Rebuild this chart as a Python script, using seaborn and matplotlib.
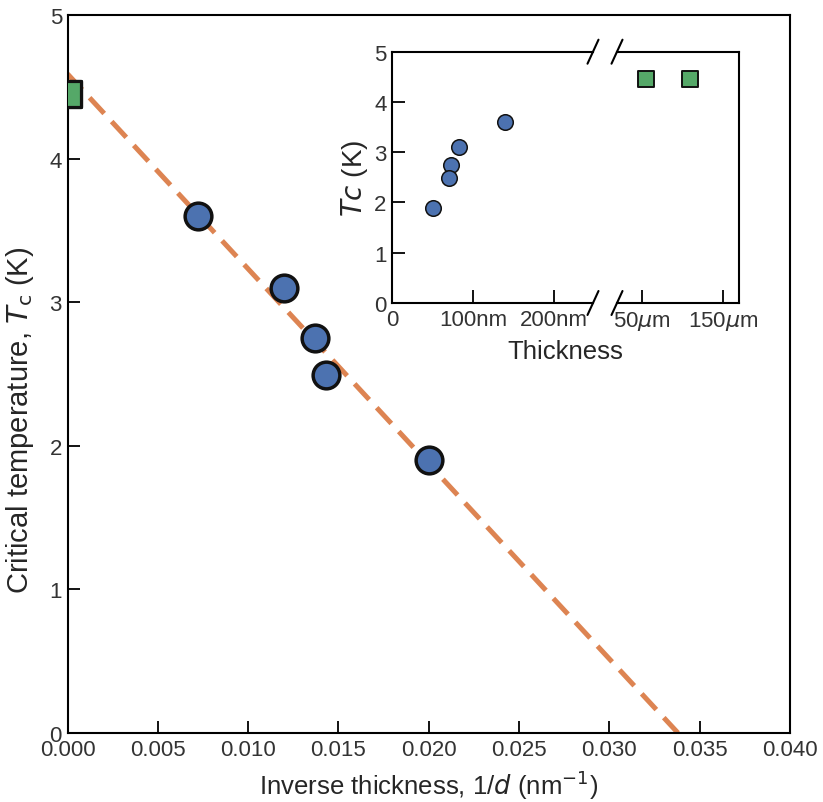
import matplotlib
matplotlib.use("Agg")
import matplotlib.pyplot as plt
from matplotlib.lines import Line2D
import seaborn as sns

# ---- data ----
inv_thickness = [0.0072, 0.0120, 0.0137, 0.0143, 0.0200]   # 1/nm
tc_films = [3.60, 3.10, 2.75, 2.49, 1.90]                  # K
inv_bulk = [0.00002, 0.00001]
tc_bulk = [4.45, 4.45]
fit_x = [0.0, 0.0338]
fit_y = [4.59, 0.0]

thickness_nm = [139, 83, 73, 70, 50]
thickness_um = [55, 110]

main_xticks = [0.0, 0.005, 0.010, 0.015, 0.020, 0.025, 0.030, 0.035, 0.040]
main_xticklabels = ["0.000", "0.005", "0.010", "0.015", "0.020", "0.025", "0.030", "0.035", "0.040"]
main_yticks = [0, 1, 2, 3, 4, 5]
inset_nm_ticks = [0, 100, 200]
inset_nm_labels = ["0", "100nm", "200nm"]
inset_um_ticks = [50, 150]
inset_um_labels = [r"50$\mu$m", r"150$\mu$m"]

BLUE = "#4c72b0"
ORANGE = "#dd8452"
GREEN = "#55a868"

sns.set_theme(style="ticks")
plt.rcParams["font.family"] = ["Liberation Sans", "DejaVu Sans"]
plt.rcParams["text.color"] = ".15"
plt.rcParams["axes.labelcolor"] = ".15"
plt.rcParams["xtick.color"] = "black"
plt.rcParams["ytick.color"] = "black"
plt.rcParams["xtick.labelcolor"] = ".2"
plt.rcParams["ytick.labelcolor"] = ".2"

W, H = 823, 803
fig = plt.figure(figsize=(W / 100, H / 100), dpi=100)


def px_axes(l, t, r, b):
    return fig.add_axes([l / W, (H - b) / H, (r - l) / W, (b - t) / H])


# ---- main axes ----
ax = px_axes(67.5, 16, 790, 734)
sns.lineplot(x=fit_x, y=fit_y, ax=ax, color=ORANGE, lw=3.6,
             linestyle=(0, (4.3, 2.2)), zorder=2)
sns.scatterplot(x=inv_bulk, y=tc_bulk, ax=ax, marker="s", s=350, color=GREEN,
                edgecolor="#111111", linewidth=2.3, zorder=3)
sns.scatterplot(x=inv_thickness, y=tc_films, ax=ax, marker="o", s=370, color=BLUE,
                edgecolor="#111111", linewidth=2.5, zorder=4)
ax.set_xlim(0, 0.04)
ax.set_ylim(0, 5)
ax.set_xticks(main_xticks)
ax.set_xticklabels(main_xticklabels)
ax.set_yticks(main_yticks)
ax.tick_params(direction="in", length=8.6, width=1.3, labelsize=16, pad=4)
ax.tick_params(axis="y", pad=4)
for sp in ax.spines.values():
    sp.set_linewidth(1.5)
    sp.set_color("black")
    sp.set_visible(True)
ax.set_xlabel(r"Inverse thickness, 1/$d$ (nm$^{-1}$)", fontsize=18.5, labelpad=6)
ax.set_ylabel(r"Critical temperature, $T_\mathrm{c}$ (K)", fontsize=21)
ax.yaxis.set_label_coords(-0.043, 0.437)

# ---- inset (broken axis) ----
top, bot = 52.7, 304
axl = px_axes(392.3, top, 593, bot)
axr = px_axes(617, top, 739.3, bot)

sns.scatterplot(x=thickness_nm, y=tc_films, ax=axl, marker="o", s=125, color=BLUE,
                edgecolor="#111111", linewidth=1.1, zorder=3)
sns.scatterplot(x=thickness_um, y=tc_bulk, ax=axr, marker="s", s=135, color=GREEN,
                edgecolor="#111111", linewidth=1.4, zorder=3)

axl.set_xlim(0, 248)
axr.set_xlim(19.5, 170.5)
for a in (axl, axr):
    a.set_ylim(0, 5)
    a.set_facecolor("white")
    for sp in a.spines.values():
        sp.set_linewidth(1.5)
        sp.set_color("black")
        sp.set_visible(True)
    a.tick_params(direction="in", length=9.4, width=1.3, labelsize=16, pad=4)

axl.spines["right"].set_visible(False)
axr.spines["left"].set_visible(False)
axl.set_xticks(inset_nm_ticks)
axl.set_xticklabels(inset_nm_labels)
axl.set_yticks(main_yticks)
axr.set_xticks(inset_um_ticks)
axr.set_xticklabels(inset_um_labels)
axr.set_yticks([])
axl.set_ylabel(r"$Tc$ (K)", fontsize=20, labelpad=3)
fig.text((392.3 + 739.3) / 2 / W, (H - 352) / H, "Thickness", fontsize=18.5,
         ha="center", va="center", color=".15")

# break marks
for xb in (593, 617):
    for yb in (top, bot):
        fig.add_artist(Line2D([(xb - 5.5) / W, (xb + 5.5) / W],
                              [(H - yb - 12) / H, (H - yb + 12) / H],
                              transform=fig.transFigure, color="black", lw=1.5))

fig.savefig("out.png", dpi=100)
